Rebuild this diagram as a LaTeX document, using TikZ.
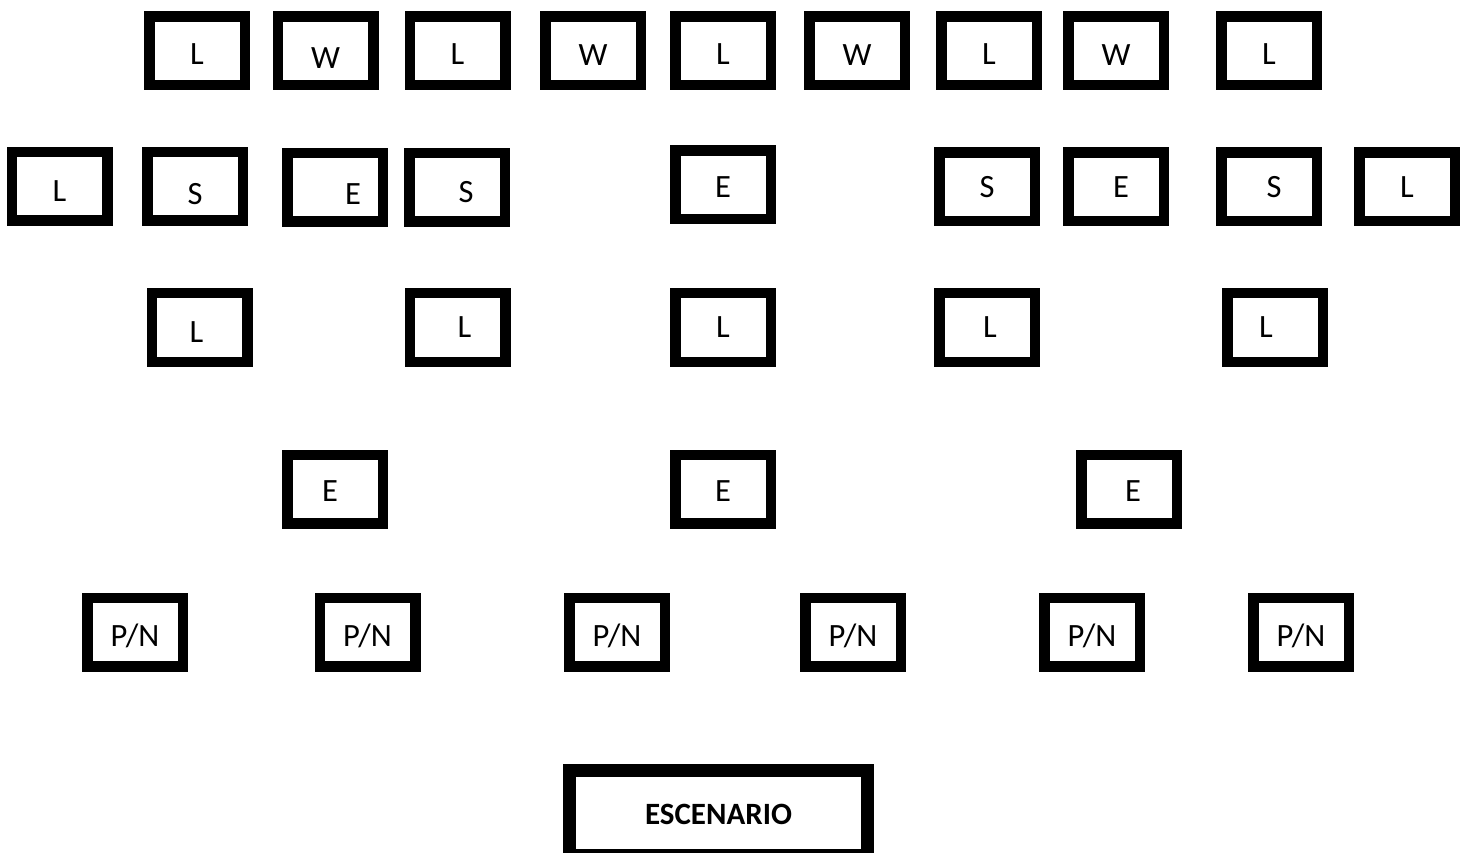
\documentclass[tikz,border=0pt]{standalone}
\usepackage{fontspec}
\setmainfont{Carlito}

\newcommand{\seatdown}[2]{\raisebox{-#1}[\height][0pt]{#2}}

\begin{document}
\begin{tikzpicture}[
    x=1pt, y=-1pt,
    seat/.style={draw, line width=10.5pt, minimum width=95.5pt, minimum height=68.5pt, inner sep=0pt, font=\fontsize{32.5}{38}\selectfont},
    stage/.style={draw, line width=13pt, minimum width=298pt, minimum height=85pt, inner sep=0pt, font=\fontsize{31}{36}\selectfont\bfseries}
  ]
  \useasboundingbox (0,0) rectangle (1468,853);
  % top row
  \node[seat] (t1) at (197,51) {\seatdown{3pt}{L}};
  \node[seat] (t2) at (325.5,51) {\seatdown{7pt}{W}};
  \node[seat] (t3) at (457.5,51) {\seatdown{3pt}{L}};
  \node[seat] (t4) at (593,51) {\seatdown{4pt}{W}};
  \node[seat] (t5) at (723,51) {\seatdown{3pt}{L}};
  \node[seat] (t6) at (857,51) {\seatdown{4pt}{W}};
  \node[seat] (t7) at (989,51) {\seatdown{3pt}{L}};
  \node[seat] (t8) at (1116,51) {\seatdown{4pt}{W}};
  \node[seat] (t9) at (1269,51) {\seatdown{3pt}{L}};
  % second row
  \node[seat] (m1) at (59.5,186.5) {\seatdown{4.5pt}{L}};
  \node[seat] (m2) at (195,186.5) {\seatdown{7.5pt}{S}};
  \node[seat] (m3) at (335,187.5) {\hspace*{36pt}\seatdown{6.5pt}{E}};
  \node[seat] (m4) at (457,187.5) {\hspace*{18pt}\seatdown{4.5pt}{S}};
  \node[seat] (m5) at (723,185) {\seatdown{2pt}{E}};
  \node[seat] (m6) at (987,187) {S};
  \node[seat] (m7) at (1116,187) {\hspace*{10pt}E};
  \node[seat] (m8) at (1269,187) {\hspace*{10pt}S};
  \node[seat] (m9) at (1407,187) {L};
  % third row
  \node[seat] (l1) at (199.5,327.5) {\hspace*{-6pt}\seatdown{4.5pt}{L}};
  \node[seat] (l2) at (457.5,327.5) {\hspace*{14pt}L};
  \node[seat] (l3) at (723,327.5) {L};
  \node[seat] (l4) at (987,327.5) {\hspace*{6pt}L};
  \node[seat] (l5) at (1275,327.5) {\hspace*{-18pt}L};
  % fourth row
  \node[seat] (e1) at (335,489) {\hspace*{-10pt}\seatdown{2pt}{E}};
  \node[seat] (e2) at (723,489) {\seatdown{2pt}{E}};
  \node[seat] (e3) at (1129,489) {\hspace*{8pt}\seatdown{2pt}{E}};
  % fifth row
  \node[seat] (pn1) at (135,632) {\seatdown{3pt}{P/N}};
  \node[seat] (pn2) at (367.5,632) {\seatdown{3pt}{P/N}};
  \node[seat] (pn3) at (617,632) {\seatdown{3pt}{P/N}};
  \node[seat] (pn4) at (853,632) {\seatdown{3pt}{P/N}};
  \node[seat] (pn5) at (1092,632) {\seatdown{3pt}{P/N}};
  \node[seat] (pn6) at (1301,632) {\seatdown{3pt}{P/N}};
  % stage
  \node[stage] (stage) at (718.5,813) {\seatdown{1pt}{ESCENARIO}};
\end{tikzpicture}
\end{document}
